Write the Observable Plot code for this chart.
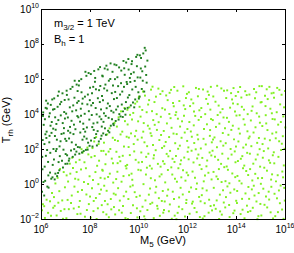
<!DOCTYPE html>
<html><head><meta charset="utf-8">
<script src="https://cdn.jsdelivr.net/npm/d3@7"></script>
<script src="https://cdn.jsdelivr.net/npm/@observablehq/plot@0.6"></script>
<style>html,body{margin:0;padding:0;background:#fff;overflow:hidden}svg{display:block}</style>
</head><body><div id="chart"></div>
<script>
// points as [log10(M5/GeV), log10(Trh/GeV)]
const darkPts = [
[6.21,3.02],[6.04,0.87],[6.38,4.55],[6.12,2.31],[6.46,1.12],[6.29,-0.18],[6.07,4.12],[6.33,2.78],[6.18,1.64],[6.42,3.57],[6.02,-0.41],[6.26,4.63],[6.15,0.21],[6.49,2.03],[6.35,0.68],[6.09,3.41],[6.23,1.97],[6.44,4.86],[6.11,-0.63],[6.31,3.88],[6.05,2.54],[6.40,0.33],[6.17,4.38],[6.27,1.29],[6.03,1.58],[6.48,3.19],[6.20,2.66],[6.36,1.81],[6.14,3.73],[6.24,-0.12],[6.47,4.28],[6.08,0.14],[6.32,2.41],[6.19,4.79],[6.41,2.95],[6.06,3.92],[6.28,0.52],[6.13,1.02],[6.37,3.36],[6.22,4.34],[6.45,0.41],[6.16,2.87],[6.34,4.07],
[6.74,2.18],[6.53,4.31],[6.88,0.97],[6.61,3.46],[6.95,4.83],[6.57,0.62],[6.82,2.89],[6.67,5.07],[6.99,1.74],[6.51,1.43],[6.79,3.95],[6.64,0.48],[6.92,3.22],[6.70,1.28],[6.55,2.77],[6.86,5.21],[6.62,2.03],[6.97,2.61],[6.76,4.59],[6.59,1.91],[6.84,1.36],[6.69,3.68],[6.52,4.92],[6.93,4.14],[6.73,0.81],[6.81,4.72],[6.58,3.13],[6.90,1.99],[6.66,4.44],[6.78,2.47],[6.54,0.29],[6.96,3.77],[6.71,5.31],[6.63,2.56],[6.87,3.51],[6.56,3.84],[6.98,1.18],[6.75,1.62],[6.68,0.66],[6.91,2.93],
[7.23,3.64],[7.04,5.12],[7.41,2.27],[7.12,1.36],[7.35,4.96],[7.02,2.49],[7.28,1.58],[7.47,3.91],[7.16,4.41],[7.09,3.07],[7.44,5.71],[7.31,2.88],[7.06,1.19],[7.38,1.71],[7.19,5.46],[7.26,4.18],[7.49,2.14],[7.13,2.63],[7.33,3.42],[7.01,4.05],[7.21,1.94],[7.46,4.67],[7.08,3.83],[7.36,5.93],[7.17,3.29],[7.43,1.88],[7.27,5.58],[7.11,4.86],[7.39,3.16],[7.05,1.67],[7.30,4.52],[7.48,5.34],[7.14,1.48],[7.24,2.41],[7.42,4.24],[7.18,2.96],[7.03,5.36],[7.34,2.02],
[7.72,3.17],[7.53,5.66],[7.91,2.39],[7.61,4.33],[7.84,6.21],[7.57,2.12],[7.78,5.02],[7.96,3.71],[7.66,1.83],[7.88,4.58],[7.51,3.84],[7.75,2.74],[7.99,5.53],[7.63,6.02],[7.82,1.98],[7.69,4.91],[7.55,1.76],[7.93,6.37],[7.71,3.48],[7.59,2.97],[7.86,3.26],[7.64,5.27],[7.97,2.21],[7.77,4.04],[7.52,4.77],[7.90,5.14],[7.68,2.56],[7.80,6.44],[7.58,3.59],[7.94,4.19],[7.73,1.91],[7.62,3.93],[7.85,2.62],[7.54,5.92],[7.98,4.82],[7.79,3.02],[7.67,4.62],[7.89,1.99],
[8.22,4.37],[8.03,2.51],[8.41,5.63],[8.14,3.12],[8.33,6.58],[8.07,5.21],[8.46,2.79],[8.27,2.23],[8.11,4.66],[8.38,3.88],[8.02,6.31],[8.19,5.87],[8.44,4.29],[8.29,3.54],[8.06,3.97],[8.35,2.46],[8.16,6.49],[8.48,5.06],[8.24,2.88],[8.09,2.17],[8.40,6.71],[8.31,4.93],[8.13,3.49],[8.47,3.31],[8.20,6.09],[8.04,4.52],[8.36,5.39],[8.26,4.01],[8.12,5.58],[8.43,2.61],[8.18,2.66],[8.49,6.22],[8.30,3.05],[8.08,3.28],[8.39,4.71],[8.23,5.44],[8.45,3.73],
[8.72,4.63],[8.53,2.92],[8.91,6.44],[8.62,5.71],[8.84,3.36],[8.56,4.07],[8.78,2.98],[8.97,4.88],[8.66,6.79],[8.88,5.22],[8.51,6.18],[8.75,3.81],[8.94,3.47],[8.60,3.21],[8.82,6.03],[8.69,5.37],[8.99,6.86],[8.57,5.49],[8.86,4.21],[8.64,2.84],[8.93,5.66],[8.71,6.57],[8.54,3.58],[8.80,4.48],[8.67,4.36],[8.96,3.39],[8.76,5.93],[8.59,6.63],[8.89,3.73],[8.73,3.07],[8.52,4.81],[8.83,6.92],[8.63,3.92],[8.95,4.12],
[9.22,5.14],[9.04,3.63],[9.41,6.27],[9.13,4.46],[9.33,3.86],[9.07,6.82],[9.46,4.71],[9.27,6.51],[9.16,3.71],[9.38,5.58],[9.02,5.29],[9.19,4.02],[9.44,3.99],[9.29,4.57],[9.09,4.94],[9.36,7.06],[9.24,3.89],[9.49,5.86],[9.11,6.13],[9.31,5.31],[9.06,4.28],[9.42,4.33],[9.18,6.69],[9.26,5.79],[9.47,6.97],[9.14,5.62],[9.34,4.18],[9.01,6.02],[9.39,6.64],
[9.72,5.43],[9.53,4.38],[9.91,6.76],[9.62,6.09],[9.84,4.86],[9.56,7.17],[9.78,6.41],[9.97,5.27],[9.66,4.52],[9.88,7.29],[9.51,5.74],[9.75,4.69],[9.94,6.12],[9.60,5.11],[9.82,5.92],[9.69,6.88],[9.99,4.91],[9.57,6.57],[9.86,5.58],[9.64,5.86],[9.93,7.41],[9.71,7.04],[9.54,4.97],[9.80,4.41],[9.67,6.32],
[10.13,6.47],[10.02,5.02],[10.27,7.66],[10.08,7.23],[10.31,5.82],[10.05,6.11],[10.21,5.31],[10.34,7.08],[10.11,5.46],[10.25,6.74],[10.17,7.49],[10.03,7.38],[10.29,6.26],[10.15,5.93],[10.23,7.81],[10.07,6.63]
];
const lightPts = [
[6.27,-1.62],[6.06,-1.13],[6.43,-0.48],[6.14,-1.91],[6.35,-0.96],[6.02,-1.47],[6.48,-1.33],[6.21,-0.87],[6.39,-1.78],[6.11,-1.24],
[6.73,-0.38],[6.54,-1.22],[6.91,0.71],[6.62,-1.77],[6.85,-0.91],[6.57,0.06],[6.79,-1.51],[6.96,-0.16],[6.66,0.38],[6.88,-1.96],[6.51,-0.72],[6.76,0.89],[6.69,-1.04],[6.94,-1.41],
[7.24,-0.63],[7.03,0.52],[7.41,1.27],[7.12,-1.41],[7.35,-0.12],[7.07,-0.88],[7.29,0.94],[7.47,-1.69],[7.16,1.19],[7.38,0.33],[7.02,-1.93],[7.21,-1.06],[7.44,0.71],[7.09,0.17],[7.32,-1.37],[7.18,0.62],[7.49,-0.42],[7.26,1.53],
[7.74,0.14],[7.53,-1.28],[7.92,1.72],[7.62,0.86],[7.84,-0.57],[7.56,1.41],[7.78,-1.84],[7.97,0.47],[7.66,-0.31],[7.88,2.11],[7.51,0.28],[7.76,1.27],[7.94,-1.12],[7.60,-1.67],[7.82,0.93],[7.69,1.83],[7.99,-0.69],[7.57,-0.94],[7.86,-1.46],[7.64,2.02],[7.91,0.03],
[8.23,-0.77],[8.04,1.56],[8.42,0.38],[8.13,-1.52],[8.34,2.31],[8.07,-0.21],[8.28,1.07],[8.47,-1.18],[8.16,2.46],[8.38,-0.54],[8.02,-1.89],[8.21,0.71],[8.45,1.92],[8.11,0.26],[8.31,-1.36],[8.18,1.63],[8.49,0.84],[8.26,-1.97],[8.09,2.08],[8.36,1.36],[8.44,-0.29],[8.14,-0.94],[8.33,0.02],[8.24,2.71],
[8.73,0.43],[8.53,-1.58],[8.92,2.67],[8.62,1.16],[8.84,-0.83],[8.56,2.39],[8.79,3.21],[8.97,-1.29],[8.67,-0.36],[8.88,1.48],[8.51,0.79],[8.76,-1.87],[8.94,0.11],[8.60,-0.94],[8.82,2.03],[8.69,2.86],[8.99,3.52],[8.57,-0.07],[8.86,-1.42],[8.64,1.72],[8.93,1.21],[8.71,-1.13],[8.54,1.92],[8.80,0.62],[8.66,-1.71],[8.96,-0.52],[8.75,1.88],[8.59,0.34],
[9.23,1.33],[9.04,-0.58],[9.42,3.62],[9.13,2.49],[9.34,-1.23],[9.07,1.87],[9.28,0.16],[9.47,-0.41],[9.16,3.84],[9.38,2.17],[9.02,-1.71],[9.21,-0.92],[9.45,1.06],[9.11,0.73],[9.31,3.02],[9.18,-1.47],[9.49,2.73],[9.26,4.18],[9.09,3.31],[9.36,0.48],[9.44,-1.92],[9.14,-0.21],[9.33,1.64],[9.24,2.86],[9.06,0.31],[9.40,4.37],[9.19,1.58],[9.48,0.92],[9.29,-1.61],[9.01,2.54],[9.37,-0.67],[9.12,1.22],
[9.72,0.27],[9.53,3.43],[9.91,-1.36],[9.62,1.68],[9.84,4.62],[9.56,-0.83],[9.78,2.31],[9.97,0.84],[9.66,-1.63],[9.88,3.07],[9.51,1.12],[9.76,4.09],[9.94,2.56],[9.60,4.41],[9.82,-0.44],[9.69,0.62],[9.99,4.98],[9.57,2.14],[9.86,1.41],[9.64,-0.12],[9.93,-1.88],[9.71,3.72],[9.54,-1.97],[9.80,1.89],[9.67,2.92],[9.96,3.61],[9.75,-1.18],[9.59,0.53],[9.89,-0.71],[9.63,3.98],[9.83,2.76],[9.52,4.27],[9.98,1.26],[9.74,-0.05],[9.58,2.68],[9.92,4.74],
[10.22,2.41],[10.03,-0.64],[10.41,4.82],[10.12,1.29],[10.34,-1.46],[10.06,3.88],[10.28,0.57],[10.47,2.93],[10.16,5.31],[10.38,1.76],[10.02,4.44],[10.21,-1.82],[10.45,-0.23],[10.11,2.68],[10.31,4.13],[10.18,0.02],[10.49,5.42],[10.26,-0.91],[10.09,1.83],[10.36,3.36],[10.44,1.07],[10.14,-1.27],[10.33,2.19],[10.24,5.08],[10.07,0.81],[10.40,-0.58],[10.19,3.51],[10.48,0.36],[10.29,1.58],[10.01,5.03],[10.37,4.57],[10.13,4.26],[10.43,3.19],[10.25,-1.99],[10.05,-1.53],[10.32,0.96],[10.46,-1.11],[10.17,3.02],
[10.73,3.12],[10.54,-1.04],[10.92,0.58],[10.63,4.71],[10.85,-1.79],[10.57,2.26],[10.79,5.48],[10.98,1.33],[10.67,-0.46],[10.89,3.87],[10.52,0.91],[10.76,-1.38],[10.95,4.36],[10.61,1.67],[10.83,2.54],[10.70,-0.13],[10.99,-1.61],[10.58,3.68],[10.87,5.17],[10.65,0.24],[10.94,2.09],[10.72,4.02],[10.55,5.59],[10.81,-0.78],[10.68,1.96],[10.97,-0.37],[10.77,1.18],[10.60,-1.92],[10.90,2.83],[10.64,3.41],[10.84,0.46],[10.53,4.19],[10.96,5.33],[10.74,-1.22],[10.59,1.49],[10.93,-0.94],[10.69,5.02],[10.88,1.02],[10.80,3.56],[10.51,2.78],
[11.27,1.92],[11.06,4.28],[11.43,-0.83],[11.14,3.49],[11.36,0.57],[11.02,-1.46],[11.31,5.41],[11.48,2.36],[11.19,-0.29],[11.39,4.66],[11.04,1.18],[11.23,2.71],[11.46,-1.78],[11.11,5.09],[11.33,3.24],[11.18,0.83],[11.49,3.97],[11.26,-1.14],[11.09,2.43],[11.37,1.47],[11.44,5.57],[11.15,-0.64],[11.34,-1.96],[11.24,4.03],[11.07,0.12],[11.41,2.91],[11.20,1.61],[11.47,0.33],[11.29,3.79],[11.01,3.06],[11.38,-0.41],[11.13,1.75],[11.42,4.47],[11.25,5.24],[11.05,-0.97],[11.32,0.98],[11.45,1.29],[11.17,4.82],[11.22,-1.53],[11.03,2.19],
[11.73,0.41],[11.54,2.88],[11.92,4.94],[11.63,-1.27],[11.85,1.54],[11.57,5.36],[11.79,-0.57],[11.98,3.17],[11.67,2.22],[11.88,-1.83],[11.52,4.13],[11.76,3.61],[11.95,0.68],[11.61,0.93],[11.83,4.52],[11.70,-0.19],[11.99,1.87],[11.58,-1.62],[11.87,2.97],[11.65,4.77],[11.94,-0.88],[11.72,1.38],[11.55,0.16],[11.81,5.61],[11.68,3.31],[11.97,2.49],[11.77,-1.41],[11.60,2.04],[11.90,0.22],[11.64,-0.74],[11.84,3.93],[11.53,-1.98],[11.96,5.18],[11.74,2.67],[11.59,3.76],[11.93,-1.06],[11.69,1.16],[11.89,4.31],[11.80,0.81],[11.51,1.63],
[12.24,3.38],[12.05,-0.42],[12.43,1.71],[12.14,4.86],[12.36,-1.58],[12.02,2.12],[12.29,0.39],[12.47,4.24],[12.17,-1.09],[12.39,2.84],[12.04,5.27],[12.23,1.26],[12.46,-0.71],[12.12,3.03],[12.33,5.52],[12.19,0.74],[12.49,-1.86],[12.26,2.37],[12.09,4.48],[12.37,0.06],[12.44,3.69],[12.15,1.93],[12.34,-0.26],[12.25,4.17],[12.07,-1.67],[12.41,5.04],[12.20,-0.98],[12.48,1.12],[12.30,3.92],[12.01,0.53],[12.38,1.49],[12.13,-0.17],[12.42,2.58],[12.27,-1.34],[12.06,3.57],[12.32,2.01],[12.45,5.46],[12.16,2.73],[12.22,4.64],[12.03,1.44],
[12.76,1.04],[12.55,4.37],[12.93,-1.23],[12.64,2.61],[12.86,5.12],[12.57,-0.61],[12.78,3.44],[12.97,0.29],[12.68,-1.81],[12.89,1.83],[12.53,2.06],[12.77,-0.34],[12.95,3.74],[12.62,5.43],[12.84,0.67],[12.71,4.02],[12.99,-1.48],[12.59,1.52],[12.87,-0.87],[12.66,3.17],[12.94,5.58],[12.73,2.29],[12.56,0.88],[12.82,4.61],[12.69,-1.07],[12.98,2.41],[12.79,1.37],[12.61,-1.94],[12.91,3.11],[12.65,0.18],[12.85,-1.61],[12.54,3.86],[12.96,1.66],[12.75,4.89],[12.60,-0.22],[12.92,4.28],[12.70,0.51],[12.90,2.78],[12.81,5.31],[12.52,-0.96],
[13.26,4.51],[13.05,0.72],[13.43,2.94],[13.14,-1.39],[13.36,1.18],[13.02,3.68],[13.31,-0.58],[13.48,5.36],[13.19,2.13],[13.39,-1.72],[13.04,5.03],[13.23,0.31],[13.46,3.83],[13.11,1.59],[13.33,4.12],[13.18,-0.91],[13.49,0.99],[13.28,-1.97],[13.09,2.69],[13.37,5.49],[13.44,-0.33],[13.15,3.29],[13.34,2.47],[13.24,1.41],[13.07,-1.18],[13.41,1.76],[13.20,5.64],[13.47,-1.03],[13.29,3.48],[13.01,1.93],[13.38,0.14],[13.13,4.73],[13.42,4.31],[13.27,0.88],[13.06,-0.19],[13.32,-1.54],[13.45,2.22],[13.17,0.46],[13.22,3.97],[13.03,2.57],
[13.74,-0.47],[13.55,2.36],[13.93,4.17],[13.64,0.84],[13.86,-1.64],[13.57,4.94],[13.79,1.71],[13.98,-0.93],[13.68,3.58],[13.89,2.58],[13.53,-1.31],[13.77,5.22],[13.95,1.27],[13.62,-0.11],[13.84,3.36],[13.71,-1.86],[13.99,3.94],[13.59,1.03],[13.87,5.51],[13.66,2.84],[13.94,0.42],[13.73,4.39],[13.56,-0.72],[13.82,0.63],[13.69,-1.17],[13.97,2.17],[13.78,3.12],[13.61,5.38],[13.91,-1.49],[13.65,1.48],[13.85,4.63],[13.54,0.19],[13.96,5.06],[13.75,2.03],[13.60,3.81],[13.92,1.89],[13.70,0.07],[13.90,-0.28],[13.81,4.86],[13.52,3.21],
[14.23,1.62],[14.04,4.59],[14.42,-1.21],[14.13,2.91],[14.35,5.33],[14.02,-0.37],[14.28,3.73],[14.47,0.54],[14.16,-1.69],[14.38,2.28],[14.05,1.34],[14.22,-0.82],[14.45,4.02],[14.11,0.21],[14.32,-1.93],[14.19,4.97],[14.49,2.64],[14.26,0.93],[14.08,3.19],[14.36,-0.51],[14.43,1.81],[14.14,5.57],[14.33,3.42],[14.24,-1.44],[14.07,2.46],[14.41,5.11],[14.20,0.06],[14.48,-0.14],[14.30,4.28],[14.01,-1.06],[14.39,0.77],[14.12,3.96],[14.44,3.04],[14.27,2.11],[14.06,5.29],[14.31,1.08],[14.46,-1.57],[14.17,1.47],[14.21,4.44],[14.03,0.49],
[14.77,3.27],[14.56,-1.52],[14.94,2.02],[14.65,4.46],[14.87,0.36],[14.53,2.74],[14.81,-0.97],[14.98,4.69],[14.68,1.19],[14.89,-1.81],[14.52,5.14],[14.76,0.61],[14.95,3.53],[14.62,-0.28],[14.84,2.38],[14.71,5.46],[14.99,0.04],[14.58,3.66],[14.86,1.71],[14.66,-1.33],[14.93,5.62],[14.73,-0.63],[14.55,0.88],[14.82,4.07],[14.69,2.97],[14.97,-1.11],[14.78,1.43],[14.61,4.21],[14.91,2.66],[14.64,0.23],[14.85,-1.98],[14.54,1.76],[14.96,1.02],[14.75,4.93],[14.60,2.19],[14.92,3.88],[14.70,-0.07],[14.90,-0.49],[14.80,5.27],[14.51,-0.82],
[15.24,0.79],[15.05,3.34],[15.43,5.21],[15.14,-1.16],[15.36,2.53],[15.02,4.71],[15.31,-0.41],[15.48,1.67],[15.19,3.96],[15.39,-1.59],[15.04,0.37],[15.23,5.44],[15.46,2.91],[15.11,1.91],[15.33,-0.86],[15.18,4.48],[15.49,-1.94],[15.26,3.11],[15.09,-0.24],[15.37,1.24],[15.44,4.07],[15.15,2.62],[15.34,5.58],[15.25,-1.31],[15.07,1.53],[15.41,0.28],[15.20,-0.69],[15.47,3.74],[15.29,2.06],[15.01,-1.77],[15.38,4.33],[15.13,0.96],[15.42,-0.13],[15.27,4.88],[15.06,2.31],[15.32,1.38],[15.45,0.58],[15.16,5.07],[15.21,3.49],[15.03,5.62],
[15.74,2.47],[15.55,-0.53],[15.93,1.09],[15.64,4.13],[15.86,-1.43],[15.52,1.84],[15.81,3.57],[15.98,5.34],[15.68,0.53],[15.89,2.76],[15.53,4.96],[15.77,-1.07],[15.95,-0.19],[15.62,2.98],[15.84,5.13],[15.71,1.58],[15.99,3.26],[15.58,-1.81],[15.87,0.74],[15.66,5.52],[15.94,4.41],[15.73,-0.34],[15.56,3.72],[15.82,1.97],[15.69,-1.58],[15.97,-0.92],[15.78,4.58],[15.61,0.18],[15.91,3.89],[15.65,-0.79],[15.85,2.33],[15.54,1.21],[15.96,2.04],[15.75,5.41],[15.60,2.64],[15.92,-1.96],[15.70,3.42],[15.90,0.41],[15.80,-0.06],[15.51,5.24]
];
const xTickExps = [6, 8, 10, 12, 14, 16];
const yTickExps = [-2, 0, 2, 4, 6, 8, 10];
const darkColor = "#1f7f1f";
const lightColor = "#80f020";
const FONT = "'Liberation Sans', Arial, Helvetica, sans-serif";

const toRow = ([a, b]) => ({m: 10 ** a, t: 10 ** b});

const plot = Plot.plot({
  width: 294, height: 253,
  marginLeft: 41, marginRight: 9, marginTop: 9, marginBottom: 34,
  x: {type: "log", domain: [1e6, 1e16], axis: null},
  y: {type: "log", domain: [1e-2, 1e10], axis: null},
  style: {background: "#fff", fontFamily: FONT},
  marks: [
    Plot.dot(lightPts.map(toRow), {x: "m", y: "t", symbol: "square", r: 1.1, fill: lightColor, stroke: "none"}),
    Plot.dot(darkPts.map(toRow), {x: "m", y: "t", symbol: "square", r: 1.1, fill: darkColor, stroke: "none"}),
    Plot.frame({stroke: "#000", strokeWidth: 1})
  ]
});

const svg = d3.select(plot);
const sx = plot.scale("x"), sy = plot.scale("y");
const [x0, x1] = sx.range, [y0, y1] = sy.range;
const g = svg.append("g").attr("font-family", FONT).attr("fill", "#000").attr("text-anchor", "start");
const TL = 3;

xTickExps.forEach(e => {
  const x = Math.round(sx.apply(10 ** e)) + 0.5;
  g.append("line").attr("x1", x).attr("x2", x).attr("y1", y0).attr("y2", y0 - TL).attr("stroke", "#000");
  g.append("line").attr("x1", x).attr("x2", x).attr("y1", y1).attr("y2", y1 + TL).attr("stroke", "#000");
  const t = g.append("text").attr("x", sx.apply(10 ** e)).attr("y", y0 + 14).attr("text-anchor", "middle").attr("font-size", 10);
  t.append("tspan").text("10");
  t.append("tspan").attr("dy", -5).attr("font-size", 7).text(String(e));
});

yTickExps.forEach(e => {
  const y = Math.round(sy.apply(10 ** e)) + 0.5;
  g.append("line").attr("x1", x0).attr("x2", x0 + TL).attr("y1", y).attr("y2", y).attr("stroke", "#000");
  g.append("line").attr("x1", x1).attr("x2", x1 - TL).attr("y1", y).attr("y2", y).attr("stroke", "#000");
  const t = g.append("text").attr("x", x0 - 2).attr("y", sy.apply(10 ** e) + 4).attr("text-anchor", "end").attr("font-size", 10);
  t.append("tspan").text("10");
  t.append("tspan").attr("dy", -5).attr("font-size", 7).text(e < 0 ? "\u2212" + (-e) : String(e));
});

{
  const t = g.append("text").attr("x", (x0 + x1) / 2).attr("y", y0 + 25).attr("text-anchor", "middle").attr("font-size", 11);
  t.append("tspan").text("M");
  t.append("tspan").attr("dy", 3).attr("font-size", 8).text("5");
  t.append("tspan").attr("dy", -3).text(" (GeV)");
}
{
  const t = g.append("text").attr("transform", `translate(10,${(y0 + y1) / 2 + 6}) rotate(-90)`).attr("text-anchor", "middle").attr("font-size", 11);
  t.append("tspan").text("T");
  t.append("tspan").attr("dy", 3).attr("font-size", 8).text("rh");
  t.append("tspan").attr("dy", -3).text(" (GeV)");
}
{
  const t1 = g.append("text").attr("x", 54).attr("y", 27).attr("text-anchor", "start").attr("font-size", 11);
  t1.append("tspan").text("m");
  t1.append("tspan").attr("dy", 3).attr("font-size", 8).text("3/2");
  t1.append("tspan").attr("dy", -3).text(" = 1 TeV");
  const t2 = g.append("text").attr("x", 54).attr("y", 43).attr("text-anchor", "start").attr("font-size", 11);
  t2.append("tspan").text("B");
  t2.append("tspan").attr("dy", 3).attr("font-size", 8).text("h");
  t2.append("tspan").attr("dy", -3).text(" = 1");
}

document.getElementById("chart").appendChild(plot);
</script>
</body></html>
